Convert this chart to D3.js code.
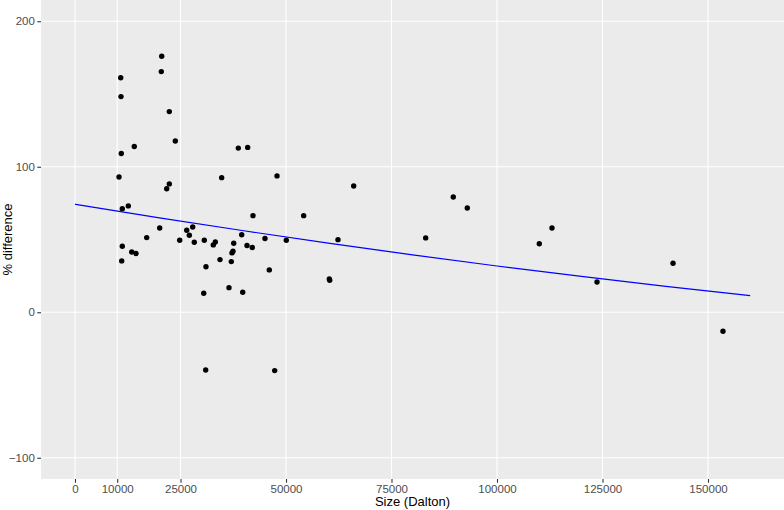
<!DOCTYPE html>
<html>
<head>
<meta charset="utf-8">
<script src="https://cdn.jsdelivr.net/npm/d3@7"></script>
<style>
  body { margin: 0; background: #fff; }
  text { font-family: "Liberation Sans", Arial, sans-serif; }
</style>
</head>
<body>
<script>

  // size in Dalton, % difference
  var sizes = [10830, 10900, 20550, 20450, 22350, 23770, 10970, 14050, 38700, 40920,
    10430, 34760, 47870, 22350, 21730, 11210, 12630, 42180, 54190, 66040,
    20070, 27890, 26470, 27090, 39500, 16990, 45020, 50070, 24810, 30640,
    28270, 33250, 32770, 37610, 40760, 42010, 11210, 13440, 14450, 37440,
    37200, 34360, 37040, 11070, 46040, 31040, 30500, 36490, 39740, 30970,
    47320, 62320, 60260, 60360, 83100, 89640, 92960, 110020, 113030, 123700,
    141710, 153550];

  var diffs = [161.2, 148.2, 175.9, 165.4, 137.9, 117.7, 109.1, 113.9, 112.8, 113.3,
    93.0, 92.5, 93.7, 88.2, 84.9, 71.2, 73.1, 66.4, 66.4, 86.8,
    57.9, 58.6, 56.4, 52.9, 53.3, 51.3, 50.7, 49.5, 49.5, 49.5,
    48.1, 48.3, 46.3, 47.4, 45.9, 44.5, 45.4, 41.4, 40.4, 41.9,
    40.8, 36.2, 34.8, 35.3, 29.1, 31.3, 13.1, 16.9, 13.7, -39.7,
    -40.1, 49.9, 22.9, 22.0, 51.1, 79.2, 71.7, 47.1, 57.9, 20.8,
    33.7, -13.1];

  // fitted trend line, read at these sizes
  var fitSizes = [0, 20000, 40000, 60000, 80000, 100000, 120000, 140000, 160000];
  var fitDiffs = [74.2, 64.9, 56.0, 47.5, 39.4, 31.8, 24.6, 17.8, 11.4];

  var xTicks = [0, 10000, 25000, 50000, 75000, 100000, 125000, 150000];
  var yTicks = [-100, 0, 100, 200];

  var width = 784, height = 510;
  var pLeft = 41, pRight = 784, pTop = 0, pBottom = 479;

  var svg = d3.select("body").append("svg")
      .attr("width", width)
      .attr("height", height);

  var x = d3.scaleLinear().domain([-8057, 168009]).range([pLeft, pRight]);
  var y = d3.scaleLinear().domain([-114.6, 214.6]).range([pBottom, pTop]);

  svg.append("rect")
    .attr("x", pLeft).attr("y", pTop)
    .attr("width", pRight - pLeft).attr("height", pBottom - pTop)
    .attr("fill", "#ebebeb");

  svg.selectAll(".gx").data(xTicks).enter().append("line")
    .attr("x1", function(d) { return x(d); })
    .attr("x2", function(d) { return x(d); })
    .attr("y1", pTop).attr("y2", pBottom)
    .attr("stroke", "#fff").attr("stroke-width", 1.1);

  svg.selectAll(".gy").data(yTicks).enter().append("line")
    .attr("y1", function(d) { return y(d); })
    .attr("y2", function(d) { return y(d); })
    .attr("x1", pLeft).attr("x2", pRight)
    .attr("stroke", "#fff").attr("stroke-width", 1.1);

  var xAxis = svg.append("g")
    .attr("transform", "translate(0," + pBottom + ")")
    .call(d3.axisBottom(x).tickValues(xTicks).tickFormat(d3.format("d")).tickSize(3.7).tickPadding(2.5));

  var yAxis = svg.append("g")
    .attr("transform", "translate(" + pLeft + ",0)")
    .call(d3.axisLeft(y).tickValues(yTicks).tickSize(3.7).tickPadding(2.5));

  [xAxis, yAxis].forEach(function(g) {
    g.select(".domain").remove();
    g.selectAll(".tick line").attr("stroke", "#333333").attr("stroke-width", 1.1);
    g.selectAll(".tick text")
      .attr("fill", "#4d4d4d")
      .style("font-size", "11.5px")
      .style("font-family", "'Liberation Sans', Arial, sans-serif");
  });

  var line = d3.line()
    .x(function(d) { return x(d[0]); })
    .y(function(d) { return y(d[1]); })
    .curve(d3.curveNatural);

  svg.append("path")
    .datum(d3.zip(fitSizes, fitDiffs))
    .attr("d", line)
    .attr("fill", "none")
    .attr("stroke", "#0000ff")
    .attr("stroke-width", 1.2);

  svg.selectAll("circle")
    .data(d3.zip(sizes, diffs))
    .enter().append("circle")
    .attr("cx", function(d) { return x(d[0]); })
    .attr("cy", function(d) { return y(d[1]); })
    .attr("r", 2.7)
    .attr("fill", "black");

  svg.append("text")
    .attr("x", (pLeft + pRight) / 2)
    .attr("y", 506)
    .attr("text-anchor", "middle")
    .style("font-size", "13px")
    .attr("fill", "black")
    .text("Size (Dalton)");

  svg.append("text")
    .attr("transform", "translate(12," + ((pTop + pBottom) / 2) + ") rotate(-90)")
    .attr("text-anchor", "middle")
    .style("font-size", "13px")
    .attr("fill", "black")
    .text("% difference");

</script>
</body>
</html>
